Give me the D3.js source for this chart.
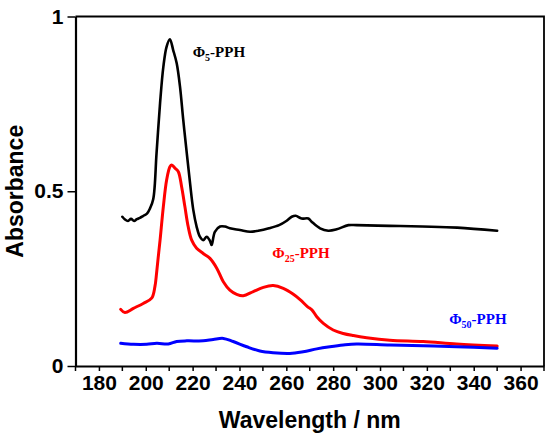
<!DOCTYPE html>
<html lang="en">
<head>
    <meta charset="UTF-8">
    <title>Absorbance spectra</title>
    <script src="https://d3js.org/d3.v7.min.js"></script>
    <style>
        body {
            margin: 0;
            background: #fff;
        }

        .tick-label {
            font-family: "Liberation Sans Narrow", "Arial Narrow", Arial, sans-serif;
            font-weight: bold;
            font-size: 21px;
            fill: #000;
        }

        .axis-title {
            font-family: "Liberation Sans", Arial, sans-serif;
            font-weight: bold;
            font-size: 23px;
        }

        .series-label {
            font-family: "Liberation Serif", "Times New Roman", serif;
            font-weight: bold;
            font-size: 15px;
        }

        .curve {
            fill: none;
            stroke-linejoin: round;
            stroke-linecap: round;
        }
    </style>
</head>
<body>
<svg id="chart"></svg>
<script>
    // Φ5-PPH (black)
    const phi5Nm = [190, 191, 192.4, 193.7, 195, 196.2, 197.5, 198.8, 200.5, 201.8, 203.2, 204.6, 206.1, 207.5, 208.9,
        210.3, 211.7, 213.2, 214.6, 216, 217.5, 218.9, 220.3, 221.7, 223.1, 224.5, 226, 227.4, 228.1, 229.5, 231.7,
        233.8, 235.9, 240.2, 244.5, 248, 252.6, 256.9, 260, 262.3, 264, 266.5, 269.4, 270.8, 274.4, 277.9, 281.5,
        286.5, 290, 304, 318, 333, 350];
    const phi5Abs = [0.427, 0.420, 0.415, 0.421, 0.415, 0.420, 0.424, 0.429, 0.436, 0.451, 0.478, 0.609, 0.752, 0.856, 0.914,
        0.935, 0.904, 0.866, 0.800, 0.704, 0.609, 0.523, 0.446, 0.399, 0.370, 0.360, 0.370, 0.358, 0.346, 0.384, 0.399,
        0.399, 0.394, 0.389, 0.384, 0.387, 0.394, 0.403, 0.415, 0.427, 0.430, 0.422, 0.422, 0.413, 0.394, 0.387, 0.391,
        0.403, 0.403, 0.401, 0.399, 0.396, 0.387];

    // Φ25-PPH (red)
    const phi25Nm = [189.3, 191.1, 194.7, 198.9, 202.5, 203.9, 204.6, 205.3, 206.1, 207.5, 208.9, 210.3, 211.1, 212.5,
        213.9, 215.3, 216.7, 218.1, 219.6, 221.7, 224.5, 227.4, 230.3, 233.1, 235.9, 238.8, 241.6, 245.9, 250.2,
        254.4, 258.7, 263, 266, 269, 271, 273, 275.8, 280, 284.3, 288.6, 294.3, 304.2, 318.4, 332.7, 350];
    const phi25Abs = [0.162, 0.153, 0.165, 0.179, 0.194, 0.227, 0.265, 0.310, 0.360, 0.456, 0.532, 0.570, 0.575, 0.566,
        0.556, 0.513, 0.456, 0.399, 0.360, 0.337, 0.322, 0.308, 0.280, 0.241, 0.217, 0.205, 0.201, 0.213, 0.225,
        0.230, 0.222, 0.205, 0.189, 0.170, 0.160, 0.141, 0.122, 0.103, 0.093, 0.087, 0.081, 0.074, 0.070, 0.063, 0.057];

    // Φ50-PPH (blue)
    const phi50Nm = [189.3, 194.7, 200.4, 204.7, 209.6, 213.2, 217.5, 224.5, 228.8, 233.1, 237.3, 243.1, 248.7, 254.4,
        261.5, 267.2, 273, 278.6, 284.3, 290, 304.2, 318.4, 332.7, 350];
    const phi50Abs = [0.065, 0.062, 0.062, 0.065, 0.063, 0.070, 0.072, 0.072, 0.076, 0.079, 0.070, 0.055, 0.043, 0.038,
        0.036, 0.041, 0.049, 0.055, 0.060, 0.063, 0.060, 0.058, 0.055, 0.051];

    const xTicks = [180, 200, 220, 240, 260, 280, 300, 320, 340, 360];
    const xMinorTicks = [170, 190, 210, 230, 250, 270, 290, 310, 330, 350, 370];
    const yTicks = [0, 0.5, 1];
    const yTickLabels = ["0", "0.5", "1"];

    const series = [
        {nm: phi5Nm, abs: phi5Abs, color: "#000000", width: 2.6, sub: "5", lx: 220, ly: 0.885},
        {nm: phi25Nm, abs: phi25Abs, color: "#ff0000", width: 3, sub: "25", lx: 254, ly: 0.31},
        {nm: phi50Nm, abs: phi50Abs, color: "#0000ff", width: 3, sub: "50", lx: 329.5, ly: 0.12}
    ];

    const width = 550;
    const height = 438;
    const margin = {top: 16.5, right: 6, bottom: 72, left: 75.5};

    const svg = d3.select("#chart")
        .attr("width", width)
        .attr("height", height);

    const x = d3.scaleLinear().domain([170, 370]).range([margin.left, width - margin.right]);
    const y = d3.scaleLinear().domain([0, 1]).range([height - margin.bottom, margin.top]);

    // Frame (top and right)
    svg.append("path")
        .attr("d", `M${x(170)},${y(1)} H${x(370)} V${y(0)}`)
        .attr("fill", "none")
        .attr("stroke", "#000")
        .attr("stroke-width", 1.8);

    // Bottom axis
    const xAxis = svg.append("g")
        .attr("transform", `translate(0,${y(0)})`)
        .call(d3.axisBottom(x).tickValues(xTicks).tickSize(5).tickSizeOuter(0).tickPadding(4));
    xAxis.select(".domain").attr("stroke-width", 2.2);
    xAxis.selectAll(".tick line").attr("stroke-width", 1.5);
    xAxis.selectAll(".tick text").attr("class", "tick-label").attr("font-size", null).attr("font-family", null);

    svg.append("g")
        .selectAll("line")
        .data(xMinorTicks)
        .enter().append("line")
        .attr("x1", d => x(d))
        .attr("x2", d => x(d))
        .attr("y1", y(0))
        .attr("y2", y(0) + 5)
        .attr("stroke", "#000")
        .attr("stroke-width", 1.5);

    // Left axis
    const yAxis = svg.append("g")
        .attr("transform", `translate(${x(170)},0)`)
        .call(d3.axisLeft(y).tickValues(yTicks).tickFormat((d, i) => yTickLabels[i])
            .tickSize(8).tickSizeOuter(0).tickPadding(4));
    yAxis.select(".domain").attr("stroke-width", 2.2);
    yAxis.selectAll(".tick line").attr("stroke-width", 1.5);
    yAxis.selectAll(".tick text").attr("class", "tick-label").attr("font-size", null).attr("font-family", null);

    // Axis titles
    svg.append("text")
        .attr("class", "axis-title")
        .attr("x", (x(170) + x(370)) / 2 + 0)
        .attr("y", 428)
        .attr("text-anchor", "middle")
        .text("Wavelength / nm");

    svg.append("text")
        .attr("class", "axis-title")
        .attr("transform", `translate(23,${(y(0) + y(1)) / 2 + 0})rotate(-90)`)
        .attr("text-anchor", "middle")
        .text("Absorbance");

    // Curves
    const line = d3.line()
        .x(d => x(d[0]))
        .y(d => y(d[1]))
        .curve(d3.curveCatmullRom.alpha(0.5));

    svg.append("g")
        .selectAll("path")
        .data(series)
        .enter().append("path")
        .attr("class", "curve")
        .attr("stroke", d => d.color)
        .attr("stroke-width", d => d.width)
        .attr("d", d => line(d.nm.map((n, i) => [n, d.abs[i]])));

    // Series labels
    const label = svg.append("g")
        .selectAll("text")
        .data(series)
        .enter().append("text")
        .attr("class", "series-label")
        .attr("fill", d => d.color)
        .attr("x", d => x(d.lx))
        .attr("y", d => y(d.ly));

    label.append("tspan").text("Φ");
    label.append("tspan")
        .attr("font-size", "10px")
        .attr("dy", 4)
        .text(d => d.sub);
    label.append("tspan")
        .attr("dy", -4)
        .text("-PPH");
</script>
</body>
</html>
